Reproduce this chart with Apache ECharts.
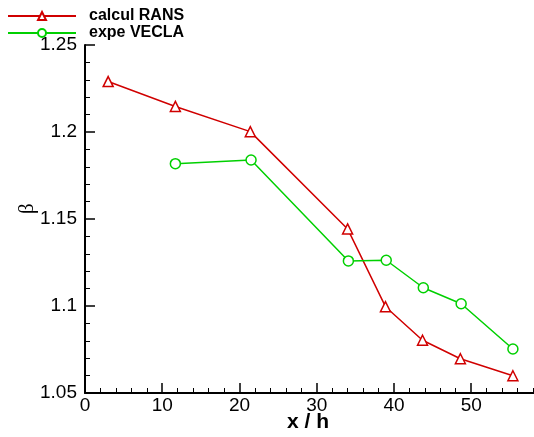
<!DOCTYPE html>
<html>
<head>
<meta charset="utf-8">
<script src="https://cdn.jsdelivr.net/npm/echarts@6/dist/echarts.min.js"></script>
<style>html,body{margin:0;padding:0;background:#fff;overflow:hidden;width:534px;height:437px}#c{width:562px;height:437px}</style>
</head>
<body>
<div id="c"></div>
<script>
const ransX = [3.0, 11.7, 21.4, 34.0, 38.9, 43.7, 48.6, 55.4];
const ransY = [1.229, 1.2147, 1.2002, 1.1443, 1.0996, 1.0803, 1.0697, 1.0599];
const veclaX = [11.7, 21.5, 34.1, 39.0, 43.8, 48.7, 55.4];
const veclaY = [1.1818, 1.1839, 1.1259, 1.1263, 1.1105, 1.1013, 1.0753];
const xTicks = [0, 10, 20, 30, 40, 50];
const yTicks = [1.05, 1.1, 1.15, 1.2, 1.25];
const seriesNames = ['calcul RANS', 'expe VECLA'];

const chart = echarts.init(document.getElementById('c'), null, {renderer: 'canvas'});
const pairs = (xs, ys) => xs.map((x, i) => [x, ys[i]]);
const red = '#d00000', green = '#00d000';
const axisCommon = {
  axisLine: {show: true, onZero: false, lineStyle: {color: '#000', width: 2}},
  axisTick: {show: true, inside: true, length: 10, lineStyle: {color: '#000', width: 1.5}},
  minorTick: {show: true, splitNumber: 5, length: 5, lineStyle: {color: '#000', width: 1}},
  splitLine: {show: false},
  axisLabel: {color: '#000', fontFamily: 'Liberation Sans, Arial', fontSize: 19}
};
chart.setOption({
  animation: false,
  backgroundColor: '#fff',
  grid: {left: 85, top: 45, bottom: 44, right: 0, containLabel: false},
  legend: {
    orient: 'vertical', left: 2, top: 3, itemGap: 1, itemWidth: 68, itemHeight: 10,
    textStyle: {fontFamily: 'Liberation Sans, Arial', fontWeight: 'bold', fontSize: 16, color: '#000', padding: [0, 0, 0, 8]},
    data: seriesNames
  },
  xAxis: Object.assign({}, axisCommon, {
    type: 'value', min: xTicks[0], max: 60, interval: 10,
    axisLabel: Object.assign({}, axisCommon.axisLabel, {margin: 3})
  }),
  yAxis: Object.assign({}, axisCommon, {
    type: 'value', min: yTicks[0], max: yTicks[yTicks.length - 1], interval: 0.05,
    axisLabel: Object.assign({}, axisCommon.axisLabel, {margin: 8, formatter: v => String(+v.toFixed(2))})
  }),
  graphic: [
    {type: 'text', left: 287, top: 412, style: {text: 'x / h', font: 'bold 21px "Liberation Sans", Arial', fill: '#000'}},
    {type: 'text', x: 17, y: 214, rotation: Math.PI / 2, style: {text: 'β', font: '21px "Liberation Serif", serif', fill: '#000'}}
  ],
  series: [
    {name: seriesNames[0], type: 'line', data: pairs(ransX, ransY), symbol: 'triangle', symbolSize: 10,
     showAllSymbol: true, lineStyle: {color: red, width: 1.5}, itemStyle: {color: '#fff', borderColor: red, borderWidth: 1.5}},
    {name: seriesNames[1], type: 'line', data: pairs(veclaX, veclaY), symbol: 'circle', symbolSize: 10,
     showAllSymbol: true, lineStyle: {color: green, width: 1.5}, itemStyle: {color: '#fff', borderColor: green, borderWidth: 1.5}}
  ]
});
</script>
</body>
</html>
